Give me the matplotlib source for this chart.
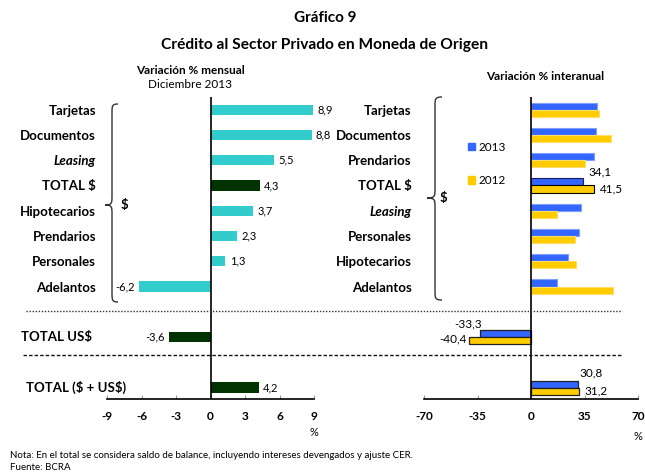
import numpy as np
import matplotlib
matplotlib.use("Agg")
import matplotlib.pyplot as plt
import matplotlib.transforms as mtransforms
from matplotlib.path import Path
from matplotlib.patches import PathPatch, Patch

plt.rcParams["font.family"] = ["Lato", "DejaVu Sans"]
plt.rcParams["text.parse_math"] = False

# Left panel: monthly variation, Dec 2013
left_labels = ["Tarjetas", "Documentos", "Leasing", "TOTAL $", "Hipotecarios",
               "Prendarios", "Personales", "Adelantos"]
left_values = [8.9, 8.8, 5.5, 4.3, 3.7, 2.3, 1.3, -6.2]
usd_label = "TOTAL US$"
usd_value = -3.6
all_label = "TOTAL ($ + US$)"
all_value = 4.2

# Right panel: year-on-year variation
right_labels = ["Tarjetas", "Documentos", "Prendarios", "TOTAL $", "Leasing",
                "Personales", "Hipotecarios", "Adelantos"]
right_2013 = [43.4, 42.8, 41.2, 34.1, 32.4, 31.4, 24.1, 16.9]
right_2012 = [44.5, 52.6, 35.1, 41.5, 16.9, 28.7, 29.4, 53.7]
usd_2013, usd_2012 = -33.3, -40.4
all_2013, all_2012 = 30.8, 31.2

left_ticks = [-9, -6, -3, 0, 3, 6, 9]
right_ticks = [-70, -35, 0, 35, 70]

CYAN = "#33CCCC"
DKGREEN = "#003300"
BLUE = "#3366FF"
YELLOW = "#FFCC00"

W, H = 645, 472
fig = plt.figure(figsize=(W / 100, H / 100), dpi=100)


def px_rect(x0, y0, x1, y1):
    # pixel box (top-left origin) -> figure fraction rect
    return [x0 / W, 1 - y1 / H, (x1 - x0) / W, (y1 - y0) / H]


def fmt(v):
    return f"{v:.1f}".replace(".", ",")


ypos = np.arange(len(left_labels))
y_usd = 9.0
y_all = 11.0
ylim = (11.45, -0.5)
lab_fs = 9.5

# ---- left axes
ax1 = fig.add_axes(px_rect(107, 97, 314, 399))
colors = [DKGREEN if l == "TOTAL $" else CYAN for l in left_labels]
ax1.barh(ypos, left_values, height=0.4, color=colors)
ax1.barh([y_usd], [usd_value], height=0.42, color=DKGREEN)
ax1.barh([y_all], [all_value], height=0.42, color=DKGREEN)
ax1.set_xlim(-9, 9)
ax1.set_ylim(*ylim)
ax1.axvline(0, color="black", lw=1.2)
for s in ["top", "right", "left"]:
    ax1.spines[s].set_visible(False)
ax1.spines["bottom"].set_linewidth(1.2)
ax1.set_xticks(left_ticks)
ax1.set_xticklabels([str(t) for t in left_ticks], fontweight="bold", fontsize=8.5)
ax1.tick_params(axis="x", direction="in", length=3, pad=9, color="#999999")
ax1.set_yticks(ypos)
ax1.set_yticklabels(left_labels, fontweight="bold", fontsize=lab_fs)
ax1.tick_params(axis="y", length=0, pad=8)
ax1.get_yticklabels()[2].set_style("italic")
ax1.patch.set_visible(False)

for y, v in list(zip(ypos, left_values)) + [(y_usd, usd_value), (y_all, all_value)]:
    if v >= 0:
        ax1.annotate(fmt(v), (v, y), xytext=(3, 0), textcoords="offset points",
                     ha="left", va="center", fontsize=8)
    else:
        ax1.annotate(fmt(v), (v, y), xytext=(-3, 0), textcoords="offset points",
                     ha="right", va="center", fontsize=8)

trans1 = mtransforms.blended_transform_factory(fig.transFigure, ax1.transData)
ax1.text(21 / W, y_usd, usd_label, transform=trans1, ha="left", va="center",
         fontweight="bold", fontsize=lab_fs)
ax1.text(26 / W, y_all, all_label, transform=trans1, ha="left", va="center",
         fontweight="bold", fontsize=lab_fs)

# ---- right axes
ax2 = fig.add_axes(px_rect(424, 97, 638, 399))
bh = 0.28
ec13 = ["#1a1a66" if l == "TOTAL $" else "#7f9fff" for l in right_labels]
ec12 = ["#000000" if l == "TOTAL $" else "#ffdd66" for l in right_labels]
ax2.barh(ypos - bh / 2, right_2013, height=bh, color=BLUE, edgecolor=ec13, lw=0.8)
ax2.barh(ypos + bh / 2, right_2012, height=bh, color=YELLOW, edgecolor=ec12, lw=0.8)
ax2.barh([y_usd - bh / 2, y_all - bh / 2], [usd_2013, all_2013], height=bh,
         color=BLUE, edgecolor="#222222", lw=0.9)
ax2.barh([y_usd + bh / 2, y_all + bh / 2], [usd_2012, all_2012], height=bh,
         color=YELLOW, edgecolor="#222222", lw=0.9)
ax2.set_xlim(-70, 70)
ax2.set_ylim(*ylim)
ax2.axvline(0, color="black", lw=1.2)
for s in ["top", "right", "left"]:
    ax2.spines[s].set_visible(False)
ax2.spines["bottom"].set_linewidth(1.2)
ax2.set_xticks(right_ticks)
ax2.set_xticklabels([str(t) for t in right_ticks], fontweight="bold", fontsize=8.5)
ax2.tick_params(axis="x", direction="in", length=3, pad=9, color="#999999")
ax2.set_yticks(ypos)
ax2.set_yticklabels(right_labels, fontweight="bold", fontsize=lab_fs)
ax2.tick_params(axis="y", length=0, pad=9)
ax2.get_yticklabels()[4].set_style("italic")
ax2.patch.set_visible(False)

it = right_labels.index("TOTAL $")
ax2.annotate(fmt(right_2013[it]), (right_2013[it], it - bh / 2), xytext=(4, 7),
             textcoords="offset points", ha="left", va="center", fontsize=8.5)
ax2.annotate(fmt(right_2012[it]), (right_2012[it], it + bh / 2), xytext=(4, 0),
             textcoords="offset points", ha="left", va="center", fontsize=8.5)
ax2.annotate(fmt(usd_2013), (usd_2013, y_usd - bh / 2), xytext=(1, 7),
             textcoords="offset points", ha="right", va="center", fontsize=8.5)
ax2.annotate(fmt(usd_2012), (usd_2012, y_usd + bh / 2), xytext=(-2, 1),
             textcoords="offset points", ha="right", va="center", fontsize=8.5)
ax2.annotate(fmt(all_2013), (all_2013, y_all - bh / 2), xytext=(1, 8),
             textcoords="offset points", ha="left", va="center", fontsize=8.5)
ax2.annotate(fmt(all_2012), (all_2012, y_all + bh / 2), xytext=(4, 0),
             textcoords="offset points", ha="left", va="center", fontsize=8.5)

fig.legend(handles=[Patch(color=BLUE, label="2013"), Patch(color=YELLOW, label="2012")],
           loc="upper left", bbox_to_anchor=(463 / W, 1 - 137 / H), frameon=False,
           fontsize=8.5, handlelength=0.6, handleheight=0.6, handletextpad=0.3,
           labelspacing=1.9, borderaxespad=0)

# ---- overlay for braces and separators (pixel coordinates)
ov = fig.add_axes([0, 0, 1, 1], zorder=5)
ov.set_xlim(0, W)
ov.set_ylim(H, 0)
ov.axis("off")


def brace(ax, xe, xl, xt, yt, ym, yb, r=9):
    verts = [(xe, yt), (xl, yt), (xl, yt + 2), (xl, yt + r),
             (xl, ym - r),
             (xl, ym - 2), (xl, ym), (xt, ym),
             (xl, ym), (xl, ym + 2), (xl, ym + r),
             (xl, yb - r),
             (xl, yb - 2), (xl, yb), (xe, yb)]
    codes = [Path.MOVETO, Path.CURVE4, Path.CURVE4, Path.CURVE4,
             Path.LINETO,
             Path.CURVE4, Path.CURVE4, Path.CURVE4,
             Path.CURVE4, Path.CURVE4, Path.CURVE4,
             Path.LINETO,
             Path.CURVE4, Path.CURVE4, Path.CURVE4]
    ax.add_patch(PathPatch(Path(verts, codes), fill=False, lw=1.0, color="#333333"))


brace(ov, 118, 112, 105, 104, 205, 302)
ov.text(121, 205, "$", fontweight="bold", fontsize=lab_fs, va="center")
brace(ov, 442, 435, 427, 97, 198, 300)
ov.text(440, 198, "$", fontweight="bold", fontsize=lab_fs, va="center")

ov.plot([26, 622], [311, 311], color="#333333", lw=1.0, ls=(0, (1, 1.2)))
ov.plot([23, 623], [355, 355], color="#111111", lw=1.0, ls=(0, (2.5, 1.5)))

fig.text(325 / W, 1 - 18 / H, "Gráfico 9", ha="center", va="center",
         fontweight="bold", fontsize=11)
fig.text(325 / W, 1 - 45 / H, "Crédito al Sector Privado en Moneda de Origen",
         ha="center", va="center", fontweight="bold", fontsize=11.2)
fig.text(190 / W, 1 - 71 / H, "Variación % mensual", ha="center", va="center",
         fontweight="bold", fontsize=8.5)
fig.text(190 / W, 1 - 85 / H, "Diciembre 2013", ha="center", va="center", fontsize=8.5)
fig.text(545 / W, 1 - 76 / H, "Variación % interanual", ha="center", va="center",
         fontweight="bold", fontsize=8.5)
fig.text(314 / W, 1 - 433 / H, "%", ha="center", va="center", fontsize=8)
fig.text(638 / W, 1 - 437 / H, "%", ha="center", va="center", fontsize=8)
fig.text(10 / W, 1 - 455 / H,
         "Nota: En el total se considera saldo de balance, incluyendo intereses devengados y ajuste CER.",
         ha="left", va="center", fontsize=7)
fig.text(10 / W, 1 - 467 / H, "Fuente: BCRA", ha="left", va="center", fontsize=7)

fig.savefig("out.png", dpi=100)
